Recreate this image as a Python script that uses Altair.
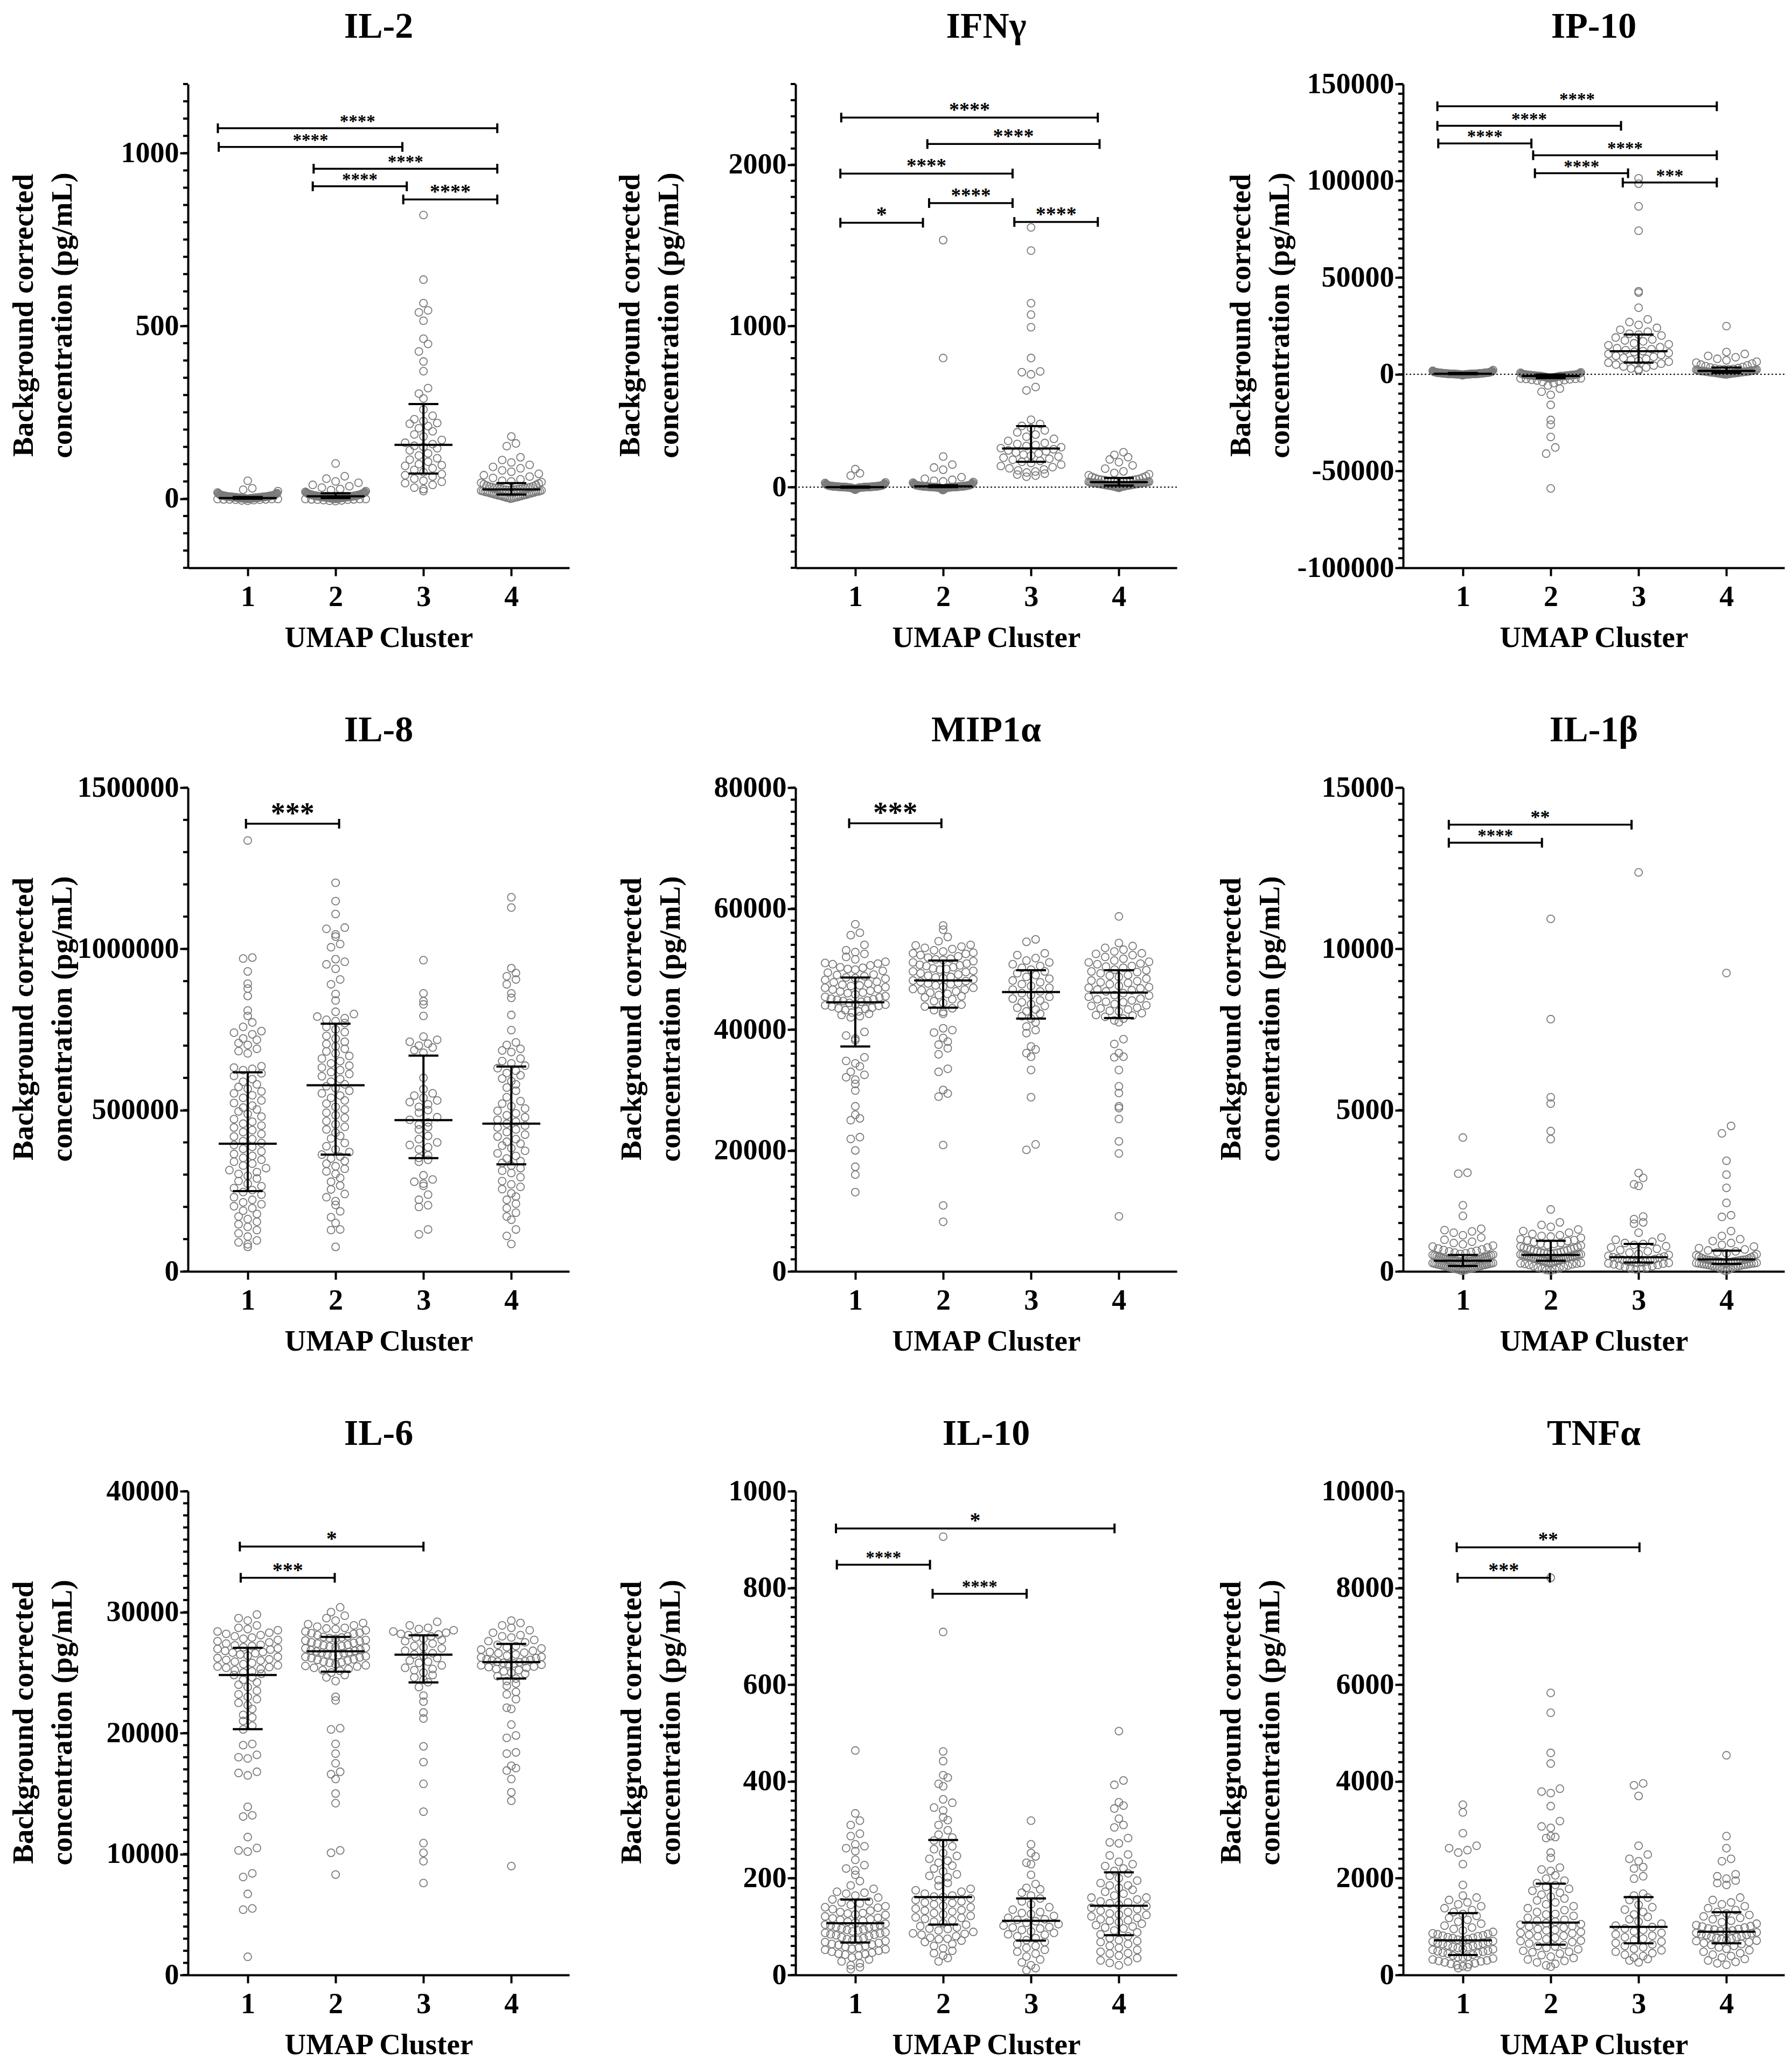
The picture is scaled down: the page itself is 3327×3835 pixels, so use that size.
import math
import altair as alt
import pandas as pd

FONT = "Liberation Serif"
W, H = 708, 898
XMIN, XMAX = 0.32, 4.66
PX_PER_UNIT = W / (XMAX - XMIN)
DOT = 16.0
MAXHALF = 56.0
MED_HALF = 0.33
CAP_HALF = 0.17
GRAY = "#7b7b7b"
CLUSTERS = [1, 2, 3, 4]
YTITLE = ["Background corrected", "concentration (pg/mL)"]

# ---------------- IL-2 ----------------
IL2_C1 = [52, 30, 26, 22, 18, 16, 15, 14, 14, 13, 12, 12, 11, 11, 10, 10, 10, 9, 9, 9, 9, 8, 8, 8, 8, 8, 7, 7, 7, 7, 7, 7, 6, 6, 6, 6, 6, 6, 6, 5, 5, 5, 5, 5, 5, 5, 5, 4, 4, 4, 4, 4, 4, 4, 4, 3, 3, 3, 3, 3, 3, 3, 3, 3, 2, 2, 2, 2, 2, 2, 2, 2, 1, 1, 1, 1, 1, 1, 1, 0, 0, 0, 0, 0, 0, -1, -1, -1, -2, -2, -2, -3, -3, -4, -5, -6]
IL2_C2 = [102, 65, 58, 50, 46, 40, 36, 32, 28, 25, 22, 20, 19, 18, 17, 16, 16, 15, 15, 14, 14, 13, 13, 12, 12, 12, 11, 11, 11, 10, 10, 10, 10, 9, 9, 9, 9, 8, 8, 8, 8, 8, 7, 7, 7, 7, 7, 6, 6, 6, 6, 6, 6, 5, 5, 5, 5, 5, 5, 4, 4, 4, 4, 4, 4, 3, 3, 3, 3, 3, 3, 2, 2, 2, 2, 2, 2, 1, 1, 1, 1, 1, 0, 0, 0, 0, 0, -1, -1, -1, -2, -2, -3, -3, -4, -5, -6, -7]
IL2_C3 = [821, 634, 566, 545, 539, 515, 463, 448, 426, 397, 369, 320, 304, 290, 258, 240, 230, 225, 219, 217, 210, 204, 195, 186, 180, 170, 162, 158, 153, 150, 146, 140, 131, 125, 117, 113, 107, 100, 97, 95, 88, 83, 77, 71, 68, 64, 58, 52, 49, 45, 40, 32, 28, 22]
IL2_C4 = [180, 160, 152, 120, 112, 105, 98, 92, 88, 82, 78, 72, 68, 64, 60, 56, 52, 50, 48, 46, 44, 42, 40, 38, 36, 35, 34, 32, 31, 30, 29, 28, 27, 27, 26, 25, 24, 23, 22, 21, 20, 19, 18, 17, 16, 15, 14, 13, 12, 12, 11, 10, 10, 9, 8, 8, 7, 6, 5, 5, 4, 3, 3, 2, 1, 0, 20, 25, 30, 15, 22, 33, 28, 18, 26]
IL2_MED = [2, 7, 156, 27]
IL2_Q1 = [0, 2, 73, 12]
IL2_Q3 = [5, 16, 274, 45]

# ---------------- IFNg ----------------
IFN_C1 = [112, 86, 72, 30, 26, 22, 20, 18, 16, 15, 14, 13, 12, 11, 10, 10, 9, 9, 8, 8, 8, 7, 7, 7, 6, 6, 6, 6, 5, 5, 5, 5, 5, 4, 4, 4, 4, 4, 3, 3, 3, 3, 3, 3, 2, 2, 2, 2, 2, 2, 2, 1, 1, 1, 1, 1, 1, 1, 0, 0, 0, 0, 0, 0, 0, 0, -1, -1, -1, -1, -1, -2, -2, -2, -2, -3, -3, -3, -4, -4, -5, -5, -6, -7, -8, -9, -10, -12, -14, -16]
IFN_C2 = [1532, 801, 190, 140, 122, 108, 62, 52, 46, 40, 36, 32, 28, 25, 22, 20, 18, 17, 16, 15, 14, 13, 12, 12, 11, 11, 10, 10, 9, 9, 9, 8, 8, 8, 7, 7, 7, 6, 6, 6, 6, 5, 5, 5, 5, 5, 4, 4, 4, 4, 4, 3, 3, 3, 3, 3, 3, 2, 2, 2, 2, 2, 2, 1, 1, 1, 1, 1, 1, 0, 0, 0, 0, 0, 0, -1, -1, -1, -1, -2, -2, -2, -3, -3, -4, -4, -5, -6, -7, -8, -10, -12, -14, -16, -18]
IFN_C3 = [1611, 1467, 1141, 1070, 992, 801, 718, 713, 700, 621, 600, 418, 392, 380, 366, 352, 340, 326, 313, 300, 287, 274, 268, 261, 255, 248, 242, 235, 228, 222, 215, 209, 202, 196, 190, 183, 176, 170, 163, 157, 150, 140, 131, 124, 117, 110, 104, 97, 91, 84, 78, 72, 65]
IFN_C4 = [217, 200, 186, 172, 155, 135, 115, 98, 88, 80, 74, 68, 64, 60, 56, 52, 50, 48, 46, 44, 42, 40, 39, 38, 37, 36, 35, 34, 33, 32, 31, 30, 30, 29, 28, 28, 27, 26, 25, 24, 24, 23, 22, 21, 20, 20, 19, 18, 17, 16, 15, 15, 14, 13, 12, 11, 10, 10, 9, 8, 7, 6, 5, 4, 3, 2, 1, 0, -2, -4, 45, 35, 25, 18, 12, 8]
IFN_MED = [0, 5, 240, 31]
IFN_Q1 = [-3, 0, 157, 10]
IFN_Q3 = [4, 12, 379, 57]

# ---------------- IP-10 ----------------
IP10_C1 = [2200, 1800, 1600, 1500, 1400, 1300, 1250, 1200, 1150, 1100, 1050, 1000, 980, 950, 920, 900, 880, 850, 820, 800, 780, 760, 740, 720, 700, 680, 660, 640, 620, 600, 580, 560, 540, 520, 500, 480, 460, 440, 420, 400, 390, 380, 370, 360, 350, 340, 330, 320, 310, 300, 290, 280, 270, 260, 250, 240, 230, 220, 210, 200, 190, 180, 170, 160, 150, 140, 130, 120, 110, 100, 90, 80, 70, 60, 50, 40, 30, 20, 10, 0, -20, -50, -80, -100, -150, -200, -250, -300, -400, -500]
IP10_C2 = [-59000, -41000, -37800, -32400, -26000, -23600, -15800, -10600, -9000, -7400, -5800, -4600, -4000, -3500, -3200, -3000, -2800, -2600, -2400, -2300, -2200, -2100, -2000, -1950, -1900, -1850, -1800, -1750, -1700, -1650, -1600, -1550, -1500, -1450, -1400, -1350, -1300, -1250, -1200, -1150, -1100, -1050, -1000, -950, -900, -870, -850, -820, -800, -780, -750, -720, -700, -650, -600, -550, -500, -450, -400, -350, -300, -250, -200, -150, -100, -50, 0, 50, 100, 200, 300, 400, 600, 800, 1000, -980, -920, -880, -830, -760, -680, -620, -580, -520, -480, -420, -380, -320, -280, -220]
IP10_C3 = [101300, 98500, 86800, 74200, 42900, 42200, 34400, 28400, 27000, 25500, 24000, 23000, 22000, 21000, 20500, 20000, 19000, 18000, 17500, 17000, 16000, 15500, 15000, 14000, 13500, 13000, 12500, 12000, 11500, 11000, 10500, 10000, 9500, 9000, 8500, 8000, 7500, 7000, 6500, 6000, 5500, 5000, 4500, 4000, 3500, 3000, 2500, 2000]
IP10_C4 = [24900, 11500, 10500, 9500, 8800, 8000, 7200, 6500, 6000, 5500, 5000, 4600, 4200, 3800, 3500, 3200, 3000, 2800, 2600, 2500, 2400, 2300, 2200, 2100, 2000, 1900, 1800, 1800, 1700, 1700, 1600, 1600, 1500, 1500, 1400, 1400, 1300, 1300, 1200, 1200, 1100, 1100, 1000, 1000, 900, 900, 800, 800, 700, 700, 600, 600, 500, 500, 400, 400, 300, 300, 200, 200, 100, 100, 0, 0, 2700, 1950, 1650, 1250, 950, 650]
IP10_MED = [300, -870, 11900, 1730]
IP10_Q1 = [100, -1950, 6060, 800]
IP10_Q3 = [700, -100, 20560, 3500]

# ---------------- IL-8 ----------------
IL8_C1 = [1336000, 973000, 970000, 930000, 892000, 877000, 854000, 809000, 792000, 772000, 758000, 745000, 740000, 735000, 722000, 718000, 708000, 702000, 683000, 676000, 690000, 636000, 632000, 628000, 624000, 614000, 606000, 596000, 588000, 580000, 572000, 566000, 558000, 552000, 546000, 538000, 530000, 522000, 514000, 508000, 502000, 496000, 488000, 480000, 472000, 464000, 458000, 452000, 446000, 438000, 432000, 426000, 418000, 410000, 404000, 398000, 392000, 386000, 380000, 372000, 364000, 358000, 352000, 346000, 340000, 334000, 328000, 320000, 314000, 308000, 302000, 296000, 288000, 280000, 272000, 264000, 258000, 252000, 246000, 238000, 230000, 222000, 214000, 208000, 202000, 196000, 188000, 178000, 170000, 162000, 154000, 146000, 138000, 128000, 118000, 108000, 96000, 90000, 84000, 76000]
IL8_C2 = [1205000, 1148000, 1108000, 1066000, 1062000, 1045000, 1038000, 1015000, 1005000, 968000, 960000, 952000, 938000, 905000, 890000, 860000, 840000, 805000, 798000, 790000, 785000, 780000, 776000, 770000, 758000, 750000, 742000, 730000, 722000, 712000, 705000, 698000, 690000, 682000, 676000, 668000, 660000, 652000, 645000, 638000, 632000, 624000, 618000, 612000, 605000, 596000, 588000, 580000, 574000, 568000, 560000, 552000, 545000, 538000, 530000, 520000, 510000, 502000, 492000, 484000, 476000, 466000, 456000, 448000, 440000, 430000, 420000, 412000, 398000, 388000, 378000, 370000, 362000, 356000, 350000, 342000, 334000, 326000, 318000, 310000, 302000, 290000, 278000, 266000, 254000, 240000, 230000, 218000, 206000, 186000, 168000, 150000, 130000, 128000, 76000]
IL8_C3 = [965000, 862000, 838000, 828000, 792000, 728000, 718000, 712000, 706000, 700000, 694000, 686000, 678000, 600000, 565000, 552000, 545000, 538000, 530000, 525000, 518000, 510000, 500000, 492000, 478000, 470000, 462000, 455000, 448000, 440000, 420000, 410000, 400000, 392000, 385000, 378000, 360000, 352000, 346000, 340000, 298000, 285000, 278000, 272000, 265000, 238000, 222000, 205000, 200000, 130000, 115000]
IL8_C4 = [1160000, 1128000, 940000, 925000, 915000, 905000, 890000, 862000, 848000, 795000, 748000, 710000, 702000, 690000, 685000, 680000, 660000, 652000, 645000, 638000, 630000, 622000, 615000, 608000, 598000, 590000, 580000, 570000, 560000, 540000, 528000, 520000, 512000, 505000, 498000, 490000, 484000, 478000, 470000, 464000, 458000, 452000, 446000, 440000, 432000, 424000, 418000, 410000, 402000, 396000, 390000, 382000, 374000, 366000, 358000, 350000, 342000, 336000, 328000, 320000, 312000, 305000, 292000, 280000, 270000, 262000, 255000, 242000, 232000, 222000, 210000, 196000, 182000, 170000, 160000, 130000, 110000, 85000]
IL8_MED = [396000, 577000, 469000, 458000]
IL8_Q1 = [249000, 362000, 351000, 332000]
IL8_Q3 = [617000, 768000, 669000, 635000]

# ---------------- MIP1a ----------------
MIP_C1 = [57400, 56000, 55600, 54000, 53100, 52500, 52000, 51600, 51200, 50900, 50600, 50300, 50000, 49700, 49400, 49100, 48800, 48500, 48200, 47900, 47600, 47300, 47000, 46700, 46400, 46100, 45800, 45500, 45300, 45000, 44800, 44600, 44400, 44200, 44000, 43800, 43600, 43400, 43200, 43000, 42800, 42600, 42400, 42200, 42000, 47800, 47200, 46600, 46000, 45400, 44700, 44100, 43500, 48400, 49000, 50200, 51000, 45100, 46300, 47400, 48600, 49900, 50800, 52800, 43900, 44900, 46900, 39600, 39000, 38500, 38200, 35400, 34800, 34400, 33900, 33000, 32500, 32100, 31700, 31000, 29900, 27300, 25900, 25300, 25000, 22200, 21900, 20000, 17300, 16000, 13100]
MIP_C2 = [57200, 56500, 55300, 54600, 54000, 53700, 53500, 53300, 53100, 52900, 52700, 52500, 52300, 52100, 51900, 51700, 51500, 51300, 51100, 50900, 50700, 50500, 50300, 50100, 49900, 49700, 49500, 49300, 49100, 48900, 48700, 48500, 48300, 48100, 47900, 47700, 47500, 47300, 47100, 46900, 46700, 46500, 46300, 46100, 45900, 45700, 45500, 45300, 45000, 44700, 44400, 44100, 43800, 43500, 43200, 42900, 42600, 52600, 51600, 50600, 49600, 48600, 47600, 46600, 53900, 50000, 48000, 40200, 39900, 39500, 38600, 38000, 37500, 36900, 35900, 33500, 33000, 30000, 29400, 28900, 20900, 10900, 8200]
MIP_C3 = [54900, 54500, 52600, 52300, 51800, 51400, 51100, 50800, 50500, 50200, 49900, 49600, 49300, 49000, 48700, 48400, 48100, 47800, 47500, 47200, 46900, 46600, 46300, 46000, 45700, 45400, 45100, 44800, 44500, 44200, 43900, 43600, 43300, 43000, 42600, 42200, 41800, 41200, 40500, 39900, 39400, 37200, 36700, 36100, 35500, 33300, 28800, 21000, 20100]
MIP_C4 = [58700, 54300, 53800, 53500, 53200, 52900, 52600, 52300, 52000, 51700, 51400, 51100, 50800, 50500, 50200, 49900, 49600, 49300, 49000, 48700, 48400, 48100, 47800, 47500, 47200, 46900, 46600, 46300, 46000, 45700, 45400, 45100, 44800, 44500, 44200, 43900, 43600, 43300, 43000, 42700, 42400, 42100, 41800, 41500, 52500, 51200, 49500, 48000, 46500, 45000, 43500, 50400, 47000, 44000, 45600, 46800, 47700, 48900, 49800, 50900, 44600, 43100, 42300, 41200, 38400, 37600, 36100, 35500, 35400, 33300, 30600, 29500, 27300, 27000, 25200, 21500, 19500, 9100]
MIP_MED = [44500, 48100, 46200, 46100]
MIP_Q1 = [37200, 43600, 41800, 41900]
MIP_Q3 = [48600, 51400, 49800, 49800]

# ---------------- IL-1b ----------------
IL1B_C1 = [4150, 3060, 3030, 2050, 1720, 1320, 1280, 1240, 1200, 1120, 1050, 980, 920, 880, 840, 800, 770, 740, 710, 680, 660, 640, 620, 600, 580, 560, 540, 520, 510, 500, 490, 480, 470, 460, 450, 440, 430, 420, 410, 400, 390, 380, 370, 360, 350, 340, 335, 330, 325, 320, 310, 300, 290, 280, 270, 260, 250, 240, 230, 220, 210, 200, 190, 180, 170, 160, 150, 140, 130, 120, 110, 100, 90, 80, 70, 60, 50, 40, 30, 20, 345, 315, 285, 255, 225, 195, 165, 135, 105, 75]
IL1B_C2 = [10930, 7820, 5400, 5200, 4350, 4100, 1920, 1520, 1440, 1380, 1300, 1250, 1200, 1160, 1120, 1080, 1040, 1000, 970, 940, 910, 880, 850, 820, 800, 780, 760, 740, 720, 700, 680, 660, 640, 620, 600, 590, 580, 570, 560, 550, 540, 530, 520, 510, 500, 490, 480, 470, 460, 450, 440, 430, 420, 410, 400, 390, 380, 370, 360, 350, 340, 330, 320, 310, 300, 290, 280, 270, 260, 250, 240, 230, 220, 200, 180, 160, 140, 120, 100, 80, 60, 40, 20, 1100, 960, 860, 730, 650, 525, 455]
IL1B_C3 = [12370, 3050, 2900, 2700, 2650, 1700, 1620, 1520, 1480, 1200, 1050, 980, 920, 880, 850, 820, 780, 740, 700, 660, 620, 580, 540, 510, 480, 460, 440, 420, 400, 380, 360, 340, 320, 300, 290, 280, 270, 260, 250, 240, 220, 200, 180, 160, 140, 120, 100, 80, 60]
IL1B_C4 = [9250, 4510, 4280, 3430, 3000, 2590, 2125, 1740, 1690, 1250, 1100, 1000, 940, 880, 820, 770, 720, 680, 650, 620, 590, 560, 530, 500, 480, 460, 440, 420, 400, 385, 370, 360, 350, 340, 330, 320, 310, 300, 290, 280, 270, 260, 250, 240, 230, 220, 210, 200, 190, 180, 170, 160, 150, 140, 130, 120, 100, 80, 60, 40, 20, 365, 345, 325, 305, 285, 265, 245, 225, 205]
IL1B_MED = [330, 510, 440, 370]
IL1B_Q1 = [165, 330, 275, 235]
IL1B_Q3 = [510, 950, 850, 645]

# ---------------- IL-6 ----------------
IL6_C1 = [29800, 29500, 29300, 28900, 28700, 28600, 28500, 28400, 28300, 28200, 28000, 27800, 27700, 27600, 27500, 27400, 27300, 27200, 27100, 27000, 26900, 26800, 26700, 26600, 26500, 26400, 26300, 26200, 26100, 26000, 25900, 25800, 25700, 25600, 25500, 25400, 25300, 25200, 25100, 25000, 24800, 24600, 24400, 24200, 24000, 23800, 23500, 23200, 23000, 22800, 22500, 22300, 22000, 21500, 21300, 21000, 20600, 20300, 27900, 27250, 26650, 26050, 25450, 24900, 28100, 26950, 19100, 19000, 18200, 18000, 17900, 16800, 16700, 16500, 13900, 13200, 13100, 11400, 10500, 10300, 10200, 8400, 8100, 6700, 5500, 5400, 1500]
IL6_C2 = [30400, 30000, 29700, 29500, 29300, 29100, 29000, 28900, 28800, 28700, 28600, 28500, 28400, 28300, 28200, 28100, 28000, 27900, 27800, 27700, 27600, 27500, 27400, 27300, 27200, 27100, 27000, 26900, 26800, 26700, 26600, 26500, 26400, 26300, 26200, 26100, 26000, 25900, 25800, 25700, 25600, 25500, 25400, 25300, 25200, 25000, 24800, 24600, 24300, 27850, 27650, 27450, 27250, 27050, 26850, 26650, 26450, 26250, 26050, 25850, 28650, 28250, 27950, 27150, 26750, 26350, 25550, 25150, 23000, 22700, 20400, 20300, 19100, 18300, 17500, 16800, 16600, 16200, 15000, 14200, 10300, 10100, 8300]
IL6_C3 = [29200, 28900, 28700, 28500, 28400, 28300, 28200, 28100, 28000, 27900, 27800, 27600, 27400, 27200, 27000, 26800, 26600, 26400, 26200, 26000, 25800, 25600, 25400, 25200, 25000, 24800, 24600, 24400, 24200, 28150, 27700, 27100, 26500, 25900, 25300, 28600, 23800, 23100, 22600, 21700, 21200, 18900, 17600, 15800, 13500, 10900, 10100, 9400, 7600]
IL6_C4 = [29300, 29100, 28900, 28700, 28500, 28300, 28100, 27900, 27700, 27500, 27300, 27200, 27100, 27000, 26900, 26800, 26700, 26600, 26500, 26400, 26300, 26200, 26100, 26000, 25900, 25800, 25700, 25600, 25500, 25400, 25300, 25200, 25100, 25000, 24900, 24700, 24500, 24300, 24100, 23900, 27600, 26650, 26050, 25850, 25650, 25450, 25950, 26250, 28000, 25750, 23400, 23200, 22800, 22100, 22000, 20700, 19800, 19600, 18400, 18300, 17300, 17100, 16900, 16200, 15100, 14400, 9000]
IL6_MED = [24800, 26760, 26480, 25870]
IL6_Q1 = [20320, 25080, 24190, 24510]
IL6_Q3 = [27050, 27950, 28090, 27370]

# ---------------- IL-10 ----------------
IL10_C1 = [464, 334, 319, 310, 292, 287, 270, 266, 262, 256, 238, 227, 220, 216, 207, 194, 185, 178, 172, 168, 164, 160, 156, 152, 148, 145, 142, 139, 136, 133, 130, 127, 124, 121, 118, 115, 112, 110, 108, 106, 104, 102, 100, 98, 96, 94, 92, 90, 88, 86, 84, 82, 80, 78, 76, 74, 72, 70, 68, 66, 64, 62, 60, 58, 56, 54, 52, 50, 48, 46, 44, 42, 40, 36, 32, 28, 24, 20, 16, 12, 150, 140, 125, 114, 103, 93, 83, 73, 63, 53, 43, 170, 128, 117, 99, 87]
IL10_C2 = [906, 709, 462, 442, 413, 408, 395, 390, 363, 356, 346, 340, 326, 320, 310, 299, 290, 284, 278, 272, 266, 260, 252, 246, 240, 232, 226, 220, 214, 208, 202, 196, 190, 184, 178, 172, 168, 164, 161, 158, 155, 152, 149, 146, 143, 140, 137, 134, 131, 128, 125, 122, 119, 116, 113, 110, 107, 104, 101, 98, 95, 92, 89, 86, 83, 80, 77, 74, 71, 68, 64, 60, 55, 50, 45, 40, 35, 28, 162, 150, 133, 118, 96, 85, 75, 236, 205, 175]
IL10_C3 = [319, 270, 252, 245, 232, 229, 207, 188, 180, 177, 170, 164, 158, 152, 146, 140, 135, 130, 126, 122, 118, 114, 111, 108, 105, 102, 99, 96, 93, 90, 87, 84, 80, 76, 72, 68, 64, 60, 56, 52, 48, 44, 38, 32, 26, 20, 14, 10, 115, 98, 83, 128]
IL10_C4 = [504, 402, 393, 357, 350, 344, 323, 310, 305, 283, 274, 272, 249, 247, 234, 229, 225, 220, 215, 210, 205, 200, 195, 190, 185, 180, 176, 172, 168, 164, 160, 156, 152, 148, 145, 142, 139, 136, 133, 130, 127, 124, 121, 118, 115, 112, 109, 106, 103, 100, 96, 92, 88, 84, 80, 76, 72, 68, 64, 60, 56, 52, 48, 44, 40, 35, 30, 25, 20, 150, 125, 98, 70, 45, 28, 185, 160, 113]
IL10_MED = [107, 161, 112, 143]
IL10_Q1 = [67, 104, 71, 82]
IL10_Q3 = [156, 279, 158, 212]

# ---------------- TNFa ----------------
TNF_C1 = [3520, 3360, 2930, 2670, 2620, 2580, 2530, 2290, 1860, 1640, 1600, 1550, 1500, 1460, 1420, 1380, 1340, 1300, 1260, 1220, 1180, 1140, 1100, 1060, 1020, 980, 950, 920, 890, 860, 840, 820, 800, 780, 760, 740, 720, 700, 680, 660, 640, 620, 600, 580, 560, 540, 520, 500, 480, 460, 440, 420, 400, 380, 360, 340, 320, 300, 280, 260, 240, 220, 200, 180, 160, 140, 850, 770, 690, 610, 530, 450, 370, 290, 230, 810, 730, 650, 570, 490]
TNF_C2 = [8210, 5830, 5420, 4590, 4370, 3850, 3790, 3760, 3490, 3180, 3070, 3040, 2870, 2850, 2830, 2530, 2420, 2220, 2180, 2150, 2060, 1990, 1950, 1900, 1860, 1820, 1780, 1740, 1700, 1660, 1620, 1580, 1540, 1500, 1460, 1420, 1380, 1340, 1300, 1260, 1220, 1180, 1140, 1100, 1070, 1040, 1010, 980, 950, 920, 890, 860, 830, 800, 770, 740, 710, 680, 650, 620, 590, 560, 530, 500, 470, 440, 410, 380, 350, 320, 290, 260, 230, 200, 170, 1120, 1000, 930, 870, 810, 700, 600, 480, 1250, 1050]
TNF_C3 = [3960, 3920, 3700, 2670, 2490, 2400, 2350, 2230, 2200, 2040, 1990, 1680, 1640, 1600, 1550, 1450, 1400, 1350, 1300, 1250, 1200, 1150, 1100, 1060, 1020, 990, 960, 930, 900, 870, 840, 810, 780, 750, 720, 690, 660, 630, 600, 570, 540, 510, 480, 450, 420, 390, 360, 330, 300, 260]
TNF_C4 = [4540, 2870, 2620, 2400, 2350, 2080, 2040, 1990, 1950, 1900, 1860, 1600, 1550, 1500, 1460, 1420, 1380, 1340, 1300, 1270, 1240, 1210, 1180, 1150, 1120, 1090, 1060, 1030, 1000, 980, 960, 940, 920, 900, 880, 860, 840, 820, 800, 780, 760, 740, 720, 700, 680, 660, 640, 620, 600, 570, 540, 510, 480, 450, 420, 390, 360, 330, 300, 270, 240, 210, 910, 870, 830, 790, 750, 710, 950, 1010]
TNF_MED = [716, 1082, 993, 894]
TNF_Q1 = [411, 626, 653, 653]
TNF_Q3 = [1279, 1887, 1610, 1297]

# ---------------- significance brackets: (x start, x end, y, label) ----------------
IL2_BR = [(0.66, 3.84, 1072, "****"), (0.67, 2.76, 1018, "****"), (1.75, 3.84, 955, "****"),
          (1.74, 2.81, 904, "****"), (2.77, 3.84, 866, "****")]
IFN_BR = [(0.84, 3.76, 2292, "****"), (1.82, 3.78, 2128, "****"), (0.83, 2.79, 1945, "****"),
          (1.84, 2.79, 1762, "****"), (0.83, 1.77, 1640, "*"), (2.81, 3.76, 1645, "****")]
IP10_BR = [(0.71, 3.89, 138500, "****"), (0.71, 2.80, 128400, "****"), (0.72, 1.78, 119300, "****"),
           (1.80, 3.89, 113200, "****"), (1.82, 2.88, 103900, "****"), (2.82, 3.89, 99100, "***")]
IL8_BR = [(0.98, 2.04, 1388000, "***")]
MIP_BR = [(0.93, 1.98, 74100, "***")]
IL1B_BR = [(0.84, 2.92, 13850, "**"), (0.84, 1.90, 13290, "****")]
IL6_BR = [(0.91, 3.00, 35420, "*"), (0.92, 1.99, 32840, "***")]
IL10_BR = [(0.78, 3.95, 923, "*"), (0.79, 1.85, 848, "****"), (1.88, 2.95, 788, "****")]
TNF_BR = [(0.93, 3.01, 8840, "**"), (0.94, 1.99, 8210, "***")]

# bracket label font sizes (style)
BR_FS = {
    "IL-2": [33, 33, 33, 33, 38], "IFNγ": [38, 38, 37, 37, 40, 38], "IP-10": [33, 33, 33, 33, 33, 34],
    "IL-8": [54], "MIP1α": [55], "IL-1β": [36, 33], "IL-6": [40, 38], "IL-10": [40, 33, 33],
    "TNFα": [37, 38],
}

# name, cluster values, (median, Q1, Q3), y-domain, labelled ticks, minor step, zero line, brackets, y-title x
PANELS = [
    ("IL-2", [IL2_C1, IL2_C2, IL2_C3, IL2_C4], (IL2_MED, IL2_Q1, IL2_Q3), (-200, 1200), [0, 500, 1000], 50, False, IL2_BR, -306),
    ("IFNγ", [IFN_C1, IFN_C2, IFN_C3, IFN_C4], (IFN_MED, IFN_Q1, IFN_Q3), (-500, 2500), [0, 1000, 2000], 100, True, IFN_BR, -308),
    ("IP-10", [IP10_C1, IP10_C2, IP10_C3, IP10_C4], (IP10_MED, IP10_Q1, IP10_Q3), (-100000, 150000), [-100000, -50000, 0, 50000, 100000, 150000], 5000, True, IP10_BR, -302),
    ("IL-8", [IL8_C1, IL8_C2, IL8_C3, IL8_C4], (IL8_MED, IL8_Q1, IL8_Q3), (0, 1500000), [0, 500000, 1000000, 1500000], 100000, False, IL8_BR, -306),
    ("MIP1α", [MIP_C1, MIP_C2, MIP_C3, MIP_C4], (MIP_MED, MIP_Q1, MIP_Q3), (0, 80000), [0, 20000, 40000, 60000, 80000], 2000, False, MIP_BR, -305),
    ("IL-1β", [IL1B_C1, IL1B_C2, IL1B_C3, IL1B_C4], (IL1B_MED, IL1B_Q1, IL1B_Q3), (0, 15000), [0, 5000, 10000, 15000], 500, False, IL1B_BR, -320),
    ("IL-6", [IL6_C1, IL6_C2, IL6_C3, IL6_C4], (IL6_MED, IL6_Q1, IL6_Q3), (0, 40000), [0, 10000, 20000, 30000, 40000], 1000, False, IL6_BR, -306),
    ("IL-10", [IL10_C1, IL10_C2, IL10_C3, IL10_C4], (IL10_MED, IL10_Q1, IL10_Q3), (0, 1000), [0, 200, 400, 600, 800, 1000], 20, False, IL10_BR, -305),
    ("TNFα", [TNF_C1, TNF_C2, TNF_C3, TNF_C4], (TNF_MED, TNF_Q1, TNF_Q3), (0, 10000), [0, 2000, 4000, 6000, 8000, 10000], 200, False, TNF_BR, -320),
]


def swarm_offsets(vals, lo, hi):
    """Row-based dot-plot layout: points sharing a pixel row are spread sideways."""
    n = len(vals)
    py = [(v - lo) / (hi - lo) * H for v in vals]
    order = sorted(range(n), key=lambda i: vals[i])
    rows = {}
    for i in order:
        rows.setdefault(int(math.floor(py[i] / DOT)), []).append(i)
    off = [0.0] * n
    for idx in rows.values():
        m = len(idx)
        step = DOT + 1.0
        if m > 1 and (m - 1) * step / 2 > MAXHALF:
            step = 2 * MAXHALF / (m - 1)
        slots = [(k - (m - 1) / 2) * step for k in range(m)]
        slots.sort(key=lambda s: (abs(s), s))
        for j, i in enumerate(idx):
            off[i] = slots[j]
    return [o / PX_PER_UNIT for o in off]


def make_panel(name, groups, stats, dom, major, minor_step, zero, brackets, tx):
    lo, hi = dom
    xs = alt.Scale(domain=[XMIN, XMAX], nice=False, zero=False)
    ys = alt.Scale(domain=[lo, hi], nice=False, zero=False)

    rows = []
    for c, vals in zip(CLUSTERS, groups):
        offs = swarm_offsets(vals, lo, hi)
        for v, o in zip(vals, offs):
            rows.append({"cluster": c, "value": v, "xpos": c + o})
    pts_df = pd.DataFrame(rows)

    xaxis = alt.Axis(values=CLUSTERS, labelExpr="'' + datum.value", title="UMAP Cluster",
                     titleY=146, titleBaseline="alphabetic", labelPadding=12, tickSize=15,
                     labelFlush=False, labelOverlap=False, labelLimit=500)
    yaxis = alt.Axis(values=major, labelExpr="'' + datum.value", title=YTITLE,
                     titleX=tx, titleY=H / 2 - 20, titleAngle=270, titleAlign="center",
                     titleBaseline="middle", titleLineHeight=72, labelPadding=2, tickSize=15,
                     labelFlush=False, labelOverlap=False, labelLimit=500, titleLimit=2000)

    pts = alt.Chart(pts_df).mark_point(
        shape="circle", filled=False, color=GRAY, size=200, strokeWidth=1.8, opacity=1
    ).encode(x=alt.X("xpos:Q", scale=xs, axis=xaxis), y=alt.Y("value:Q", scale=ys, axis=yaxis))

    n_minor = int(round((hi - lo) / minor_step))
    minor_df = pd.DataFrame({"t": [lo + k * minor_step for k in range(n_minor + 1)]})
    minor = alt.Chart(minor_df).mark_rule(color="black", strokeWidth=4).encode(
        y=alt.Y("t:Q", scale=ys), x=alt.value(0), x2=alt.value(-9))

    med, q1, q3 = stats
    st = pd.DataFrame({"c": CLUSTERS, "med": med, "q1": q1, "q3": q3})
    st["ml"] = st["c"] - MED_HALF
    st["mr"] = st["c"] + MED_HALF
    st["cl"] = st["c"] - CAP_HALF
    st["cr"] = st["c"] + CAP_HALF
    base = alt.Chart(st)
    rule = dict(color="black", strokeWidth=4)
    med_l = base.mark_rule(**rule).encode(x=alt.X("ml:Q", scale=xs), x2="mr:Q",
                                          y=alt.Y("med:Q", scale=ys))
    iqr_l = base.mark_rule(**rule).encode(x=alt.X("c:Q", scale=xs),
                                          y=alt.Y("q1:Q", scale=ys), y2="q3:Q")
    cap1 = base.mark_rule(**rule).encode(x=alt.X("cl:Q", scale=xs), x2="cr:Q",
                                         y=alt.Y("q1:Q", scale=ys))
    cap3 = base.mark_rule(**rule).encode(x=alt.X("cl:Q", scale=xs), x2="cr:Q",
                                         y=alt.Y("q3:Q", scale=ys))

    dy_units = 9.0 * (hi - lo) / H
    br = pd.DataFrame(brackets, columns=["x1", "x2", "y", "lab"])
    br["fs"] = BR_FS[name]
    br["xm"] = (br["x1"] + br["x2"]) / 2
    br["ylo"] = br["y"] - dy_units
    br["yhi"] = br["y"] + dy_units
    bb = alt.Chart(br)
    br_line = bb.mark_rule(color="black", strokeWidth=3.5).encode(
        x=alt.X("x1:Q", scale=xs), x2="x2:Q", y=alt.Y("y:Q", scale=ys))
    br_e1 = bb.mark_rule(color="black", strokeWidth=4).encode(
        x=alt.X("x1:Q", scale=xs), y=alt.Y("ylo:Q", scale=ys), y2="yhi:Q")
    br_e2 = bb.mark_rule(color="black", strokeWidth=4).encode(
        x=alt.X("x2:Q", scale=xs), y=alt.Y("ylo:Q", scale=ys), y2="yhi:Q")
    br_txt = bb.mark_text(font=FONT, fontWeight="bold", baseline="alphabetic", align="center",
                          dy=-2, color="black").encode(
        x=alt.X("xm:Q", scale=xs), y=alt.Y("y:Q", scale=ys),
        text="lab:N", size=alt.Size("fs:Q", scale=None, legend=None))

    name_txt = alt.Chart(pd.DataFrame({"name": [name]})).mark_text(
        font=FONT, fontSize=68, fontWeight="bold", baseline="alphabetic", align="center",
        color="black").encode(text="name:N", x=alt.value(W / 2), y=alt.value(-86))

    layers = [pts, minor]
    if zero:
        zl = alt.Chart(pd.DataFrame({"z": [0]})).mark_rule(
            color="black", strokeWidth=2, strokeDash=[3, 4]).encode(y=alt.Y("z:Q", scale=ys))
        layers.append(zl)
    layers += [med_l, iqr_l, cap1, cap3, br_line, br_e1, br_e2, br_txt, name_txt]

    return alt.layer(*layers).properties(width=W, height=H)


charts = [make_panel(*p) for p in PANELS]

chart = alt.concat(
    *charts, columns=3, spacing={"row": 408, "column": 420}, bounds="flush"
).properties(
    padding={"left": 8, "top": 8, "right": 2, "bottom": 0}
).configure_axis(
    labelFont=FONT, labelFontSize=54, labelFontWeight="bold", labelColor="black",
    titleFont=FONT, titleFontSize=55, titleFontWeight="bold", titleColor="black",
    domainColor="black", domainWidth=4, tickColor="black", tickWidth=4, grid=False,
).configure_view(stroke=None)

chart.save("out.html", embed_options={"renderer": "svg", "actions": False})
